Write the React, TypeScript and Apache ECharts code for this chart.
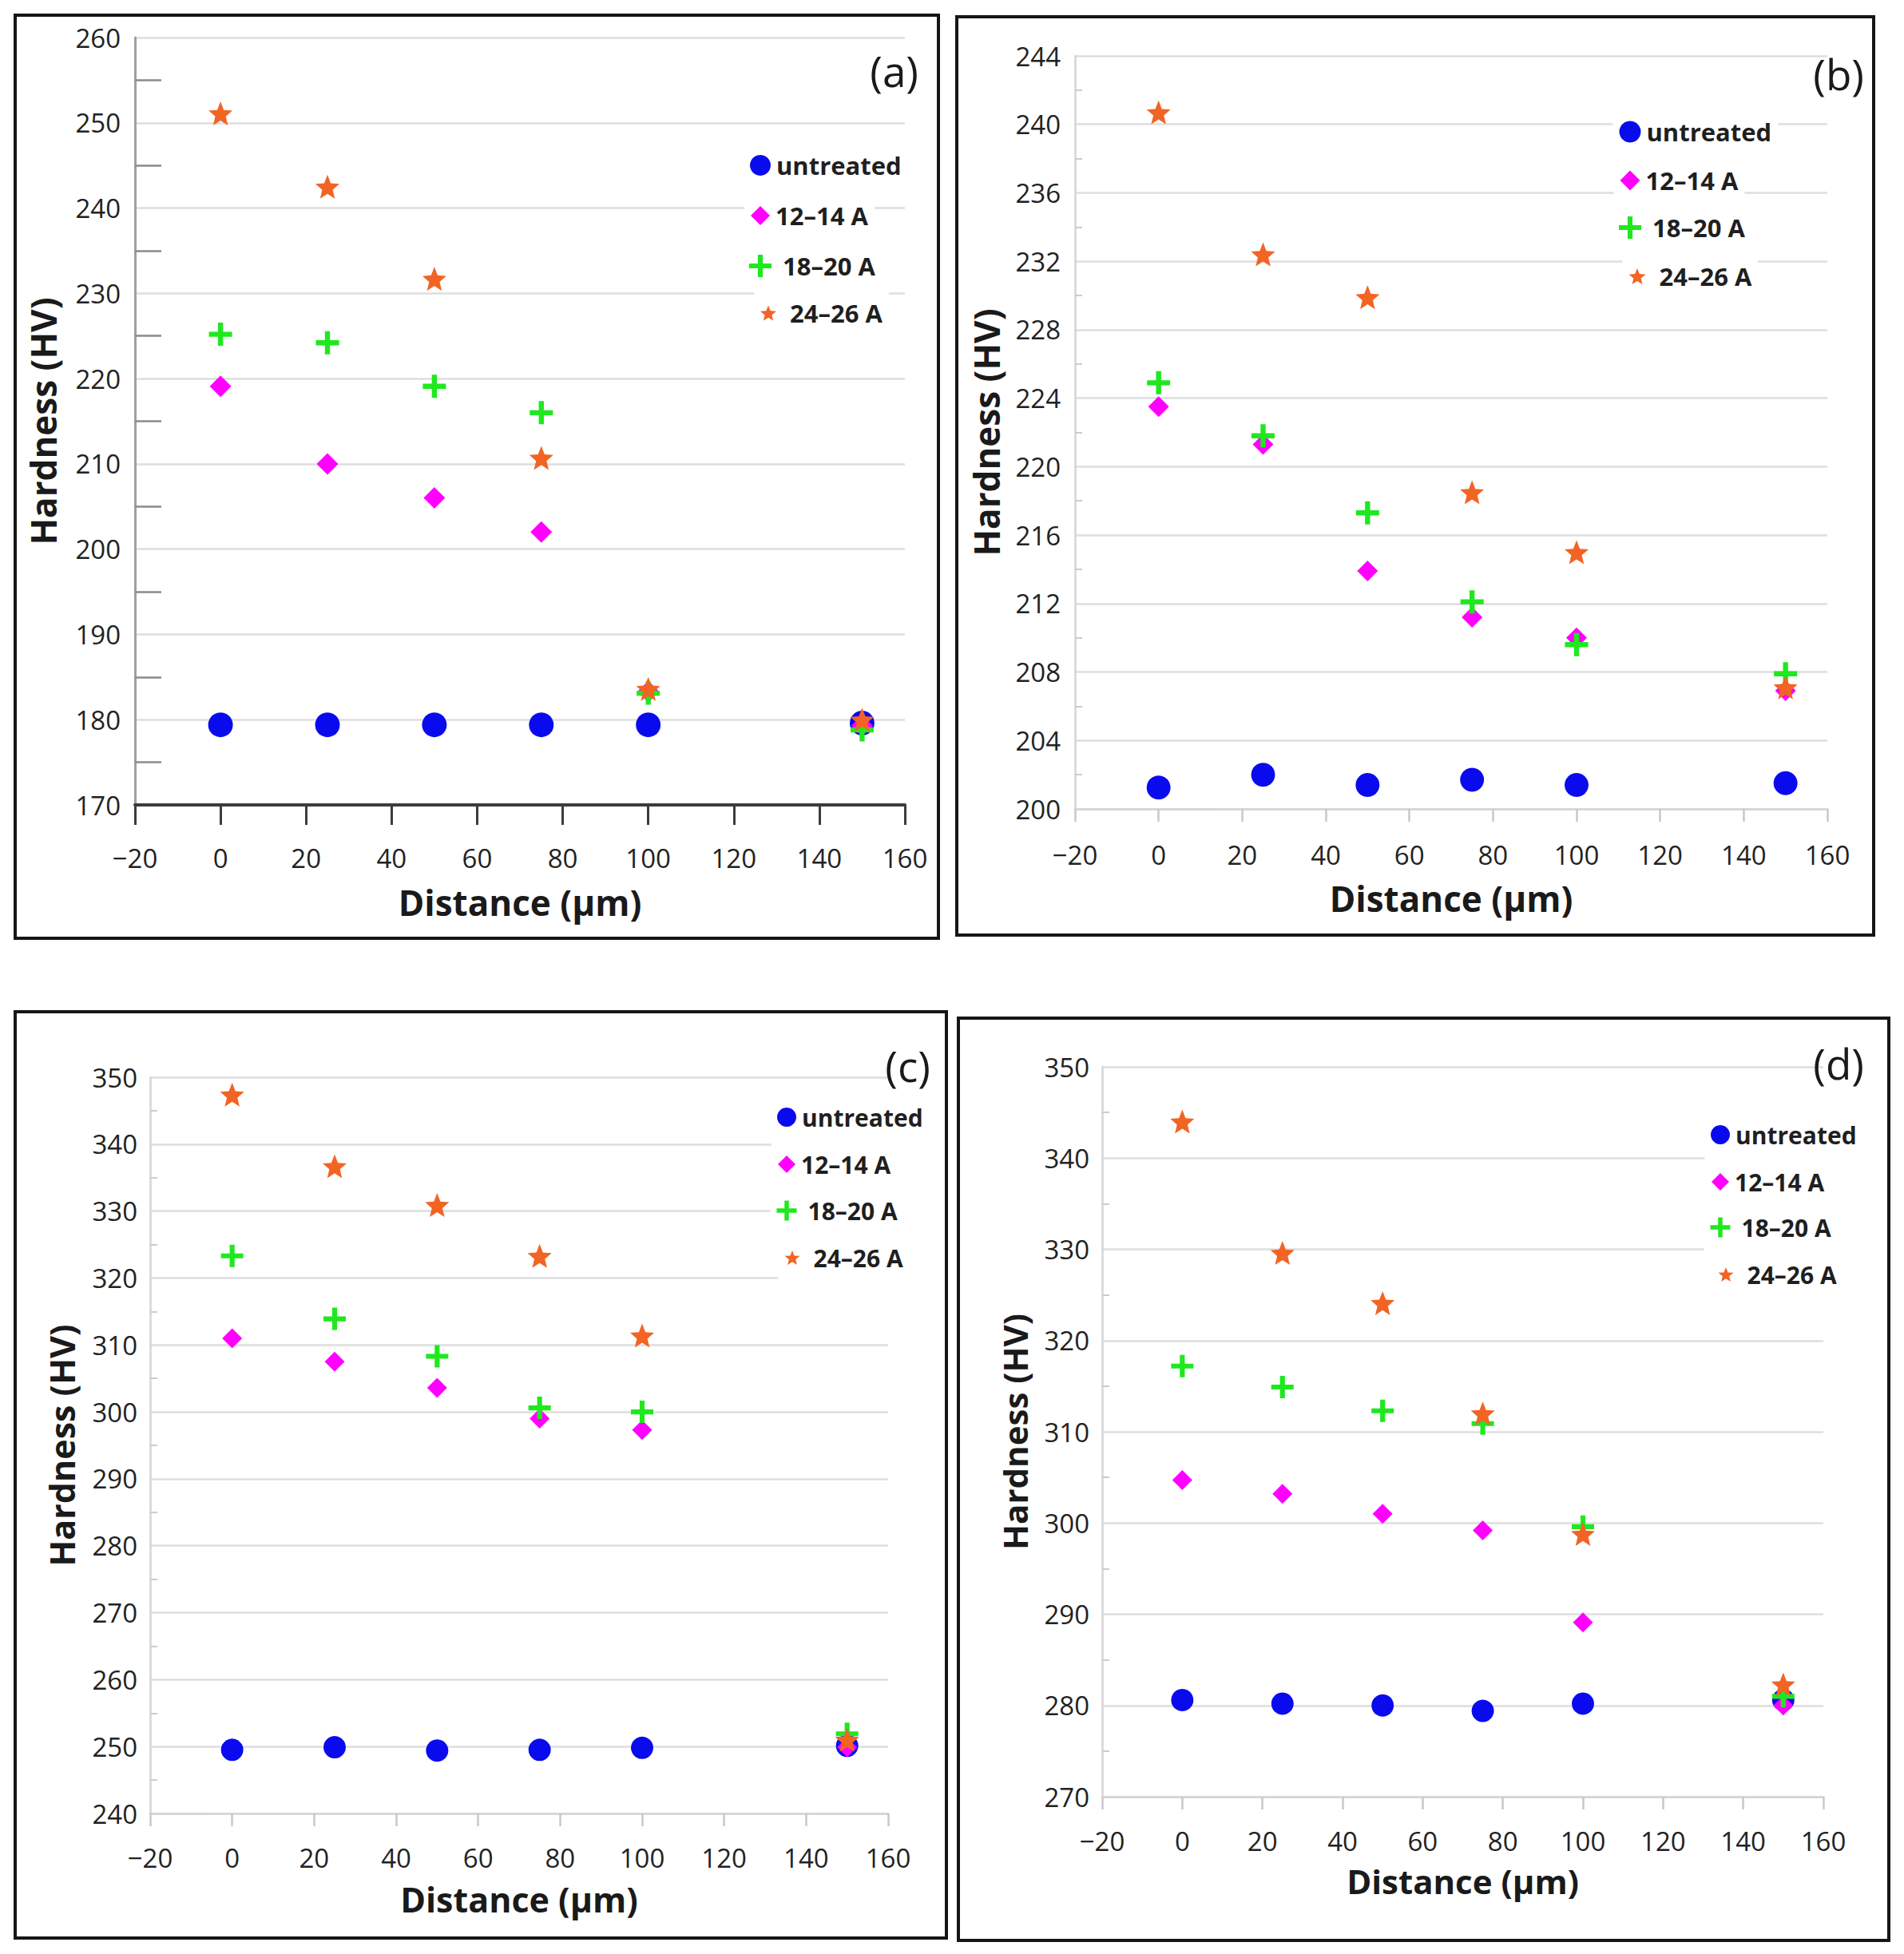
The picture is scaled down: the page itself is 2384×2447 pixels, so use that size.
import React, { useEffect, useRef } from "react";
import * as echarts from "echarts";

// ---------- data ----------
const distances = [0, 25, 50, 75, 100, 150];
const seriesNames = ["untreated", "12–14 A", "18–20 A", "24–26 A"];
const xMin = -20;
const xMax = 160;
const xInterval = 20;
const panelLabels = ["(a)", "(b)", "(c)", "(d)"];
const xTitle = "Distance (μm)";
const yTitle = "Hardness (HV)";

// panel (a)
const aUntreated = [179.4, 179.4, 179.4, 179.4, 179.4, 179.6];
const a12_14 = [219.1, 210.0, 206.0, 202.0, 183.3, 179.3];
const a18_20 = [225.2, 224.2, 219.1, 216.0, 183.1, 178.8];
const a24_26 = [251.1, 242.5, 231.7, 210.7, 183.6, 180.0];
const aY = [170, 260, 10];

// panel (b)
const bUntreated = [201.25, 202.0, 201.4, 201.7, 201.4, 201.5];
const b12_14 = [223.5, 221.3, 213.9, 211.2, 210.0, 206.9];
const b18_20 = [224.9, 221.8, 217.3, 212.1, 209.6, 207.9];
const b24_26 = [240.7, 232.4, 229.9, 218.5, 215.0, 207.1];
const bY = [200, 244, 4];

// panel (c)
const cUntreated = [249.5, 249.9, 249.4, 249.5, 249.8, 250.1];
const c12_14 = [311.0, 307.5, 303.6, 299.0, 297.3, 249.9];
const c18_20 = [323.3, 313.9, 308.3, 300.6, 300.0, 251.9];
const c24_26 = [347.4, 336.7, 330.9, 323.3, 311.4, 251.0];
const cY = [240, 350, 10];

// panel (d)
const dUntreated = [280.6, 280.2, 280.0, 279.4, 280.2, 280.6];
const d12_14 = [304.7, 303.2, 301.0, 299.2, 289.1, 280.0];
const d18_20 = [317.2, 314.9, 312.3, 310.9, 299.6, 281.0];
const d24_26 = [344.0, 329.6, 324.1, 312.0, 298.8, 282.3];
const dY = [270, 350, 10];

const panelValues = [
  [aUntreated, a12_14, a18_20, a24_26],
  [bUntreated, b12_14, b18_20, b24_26],
  [cUntreated, c12_14, c18_20, c24_26],
  [dUntreated, d12_14, d18_20, d24_26],
];
const panelY = [aY, bY, cY, dY];

// ---------- styles / layout ----------
function makeStar(): string {
  const pts: string[] = [];
  for (let k = 0; k < 10; k++) {
    const r = k % 2 === 0 ? 50 : 22;
    const a = ((-90 + k * 36) * Math.PI) / 180;
    pts.push(`${(50 + r * Math.cos(a)).toFixed(2)},${(50 + r * Math.sin(a)).toFixed(2)}`);
  }
  return "path://M" + pts.join("L") + "Z";
}
const STAR = makeStar();
const PLUS = "path://M39,0H61V39H100V61H61V100H39V61H0V39H39Z";
const symbols = ["circle", "diamond", PLUS, STAR];
const colors = ["#0a0aee", "#ff00ff", "#1fe81f", "#f26424"];
const FONT = "Open Sans";

const layouts = [
  {
    grid: { left: 169, top: 47, width: 964, height: 961 },
    border: [19, 19, 1156, 1156],
    label: [1150, 88],
    sizes: [31, 27, 29, 30],
    legendX: [952, 952, 952, 962],
    legendRows: [207, 270, 333, 392],
    legendIcon: [26, 24, 28, 20],
    legendPad: [2, 2, 9, 12],
    legendFont: 31,
    xNameGap: 100,
    yNameGap: 93,
    xLabelMargin: 50,
    yLabelMargin: 18,
    titleFont: 44,
    dark: true,
  },
  {
    grid: { left: 1346, top: 70, width: 942, height: 943 },
    border: [1198, 21, 1148, 1150],
    label: [2334, 92],
    sizes: [30, 26, 29, 30],
    legendX: [2041, 2041, 2041, 2050],
    legendRows: [165, 226, 285, 346],
    legendIcon: [27, 25, 28, 21],
    legendPad: [2, 2, 9, 12],
    legendFont: 31,
    xNameGap: 90,
    yNameGap: 89,
    xLabelMargin: 41,
    yLabelMargin: 18,
    titleFont: 44,
    dark: false,
  },
  {
    grid: { left: 188, top: 1349, width: 924, height: 922 },
    border: [19, 1267, 1166, 1160],
    label: [1165, 1334],
    sizes: [28, 25, 28, 30],
    legendX: [985, 985, 985, 992],
    legendRows: [1399, 1458, 1516, 1575],
    legendIcon: [24, 22, 25, 19],
    legendPad: [2, 2, 9, 12],
    legendFont: 30,
    xNameGap: 86,
    yNameGap: 89,
    xLabelMargin: 39,
    yLabelMargin: 16,
    titleFont: 43,
    dark: false,
  },
  {
    grid: { left: 1380, top: 1336, width: 903, height: 914 },
    border: [1200, 1275, 1165, 1155],
    label: [2334, 1331],
    sizes: [28, 25, 28, 30],
    legendX: [2154, 2154, 2154, 2161],
    legendRows: [1421, 1480, 1537, 1596],
    legendIcon: [24, 22, 25, 19],
    legendPad: [2, 2, 9, 12],
    legendFont: 30,
    xNameGap: 84,
    yNameGap: 89,
    xLabelMargin: 39,
    yLabelMargin: 16,
    titleFont: 42,
    dark: false,
  },
];

function buildOption() {
  const grid: any[] = [];
  const xAxis: any[] = [];
  const yAxis: any[] = [];
  const series: any[] = [];
  const legend: any[] = [];
  const graphic: any[] = [];

  layouts.forEach((L, p) => {
    grid.push({ ...L.grid, containLabel: false });
    const light = "#d4d4d4";
    xAxis.push({
      type: "value",
      gridIndex: p,
      min: xMin,
      max: xMax,
      interval: xInterval,
      name: xTitle,
      nameLocation: "middle",
      nameGap: L.xNameGap,
      nameTextStyle: { fontFamily: FONT, fontSize: L.titleFont, fontWeight: "bold", color: "#1a1a1a" },
      axisLine: { show: true, onZero: false, lineStyle: { color: L.dark ? "#3c3c3c" : light, width: L.dark ? 4 : 2.5 } },
      axisTick: { show: true, inside: false, length: L.dark ? 25 : 16, lineStyle: { color: L.dark ? "#3c3c3c" : "#c8c8c8", width: L.dark ? 3 : 2.5 } },
      axisLabel: {
        fontFamily: FONT,
        fontSize: 33,
        color: "#222222",
        margin: L.xLabelMargin,
        formatter: (v: number) => (v < 0 ? "\u2212" + Math.abs(v) : String(v)),
      },
      splitLine: { show: false },
    });
    const [yMin, yMax, yInt] = panelY[p];
    yAxis.push({
      type: "value",
      gridIndex: p,
      min: yMin,
      max: yMax,
      interval: yInt,
      name: yTitle,
      nameLocation: "middle",
      nameGap: L.yNameGap,
      nameTextStyle: { fontFamily: FONT, fontSize: L.titleFont, fontWeight: "bold", color: "#1a1a1a" },
      axisLine: { show: true, onZero: false, lineStyle: { color: L.dark ? "#a0a0a0" : light, width: L.dark ? 3 : 2.5 } },
      axisTick: { show: false, inside: true },
      minorTick: {
        show: true,
        splitNumber: 2,
        length: L.dark ? 33 : 9,
        lineStyle: { color: L.dark ? "#8a8a8a" : "#cccccc", width: L.dark ? 2.5 : 2 },
      },
      axisLabel: { fontFamily: FONT, fontSize: 33, color: "#222222", margin: L.yLabelMargin },
      splitLine: { show: true, lineStyle: { color: "#dedede", width: 2.5 } },
      minorSplitLine: { show: false },
    });
    panelValues[p].forEach((vals, s) => {
      series.push({
        type: "scatter",
        name: seriesNames[s],
        xAxisIndex: p,
        yAxisIndex: p,
        symbol: symbols[s],
        symbolSize: L.sizes[s],
        itemStyle: { color: colors[s], opacity: 1 },
        z: 2 + s,
        data: distances.map((d, j) => [d, vals[j]]),
      });
      const W = L.legendIcon[s];
      legend.push({
        show: true,
        orient: "vertical",
        left: L.legendX[s] - W / 2 - 8,
        top: L.legendRows[s] - 18 - 12,
        padding: [12, 8],
        itemWidth: W,
        itemHeight: W,
        itemGap: 0,
        selectedMode: false,
        backgroundColor: "#ffffff",
        z: 6,
        textStyle: {
          fontFamily: FONT,
          fontSize: L.legendFont,
          fontWeight: "bold",
          color: "#1f1f1f",
          lineHeight: 36,
          padding: [0, 0, 0, L.legendPad[s]],
        },
        data: [{ name: seriesNames[s], icon: symbols[s], itemStyle: { color: colors[s] } }],
      });
    });
    const [bx, by, bw, bh] = L.border;
    graphic.push({
      type: "rect",
      shape: { x: bx, y: by, width: bw, height: bh },
      style: { fill: "none", stroke: "#161616", lineWidth: 4 },
      z: 10,
      silent: true,
    });
    graphic.push({
      type: "text",
      x: L.label[0],
      y: L.label[1],
      z: 10,
      silent: true,
      style: {
        text: panelLabels[p],
        fill: "#1a1a1a",
        font: `53px "${FONT}"`,
        fontSize: 53,
        fontFamily: FONT,
        align: "right",
        textAlign: "right",
        verticalAlign: "middle",
        textVerticalAlign: "middle",
      },
    });
  });

  return {
    animation: false,
    backgroundColor: "#ffffff",
    textStyle: { fontFamily: FONT },
    grid,
    xAxis,
    yAxis,
    series,
    legend,
    graphic,
  };
}

export default function App() {
  const ref = useRef<HTMLDivElement>(null);
  useEffect(() => {
    if (!ref.current) return;
    const chart = echarts.init(ref.current, undefined, { renderer: "svg" });
    chart.setOption(buildOption() as any);
    return () => chart.dispose();
  }, []);
  return (
    <div
      ref={ref}
      style={{ position: "absolute", left: 0, top: 0, width: 2384, height: 2447, background: "#fff" }}
    />
  );
}
